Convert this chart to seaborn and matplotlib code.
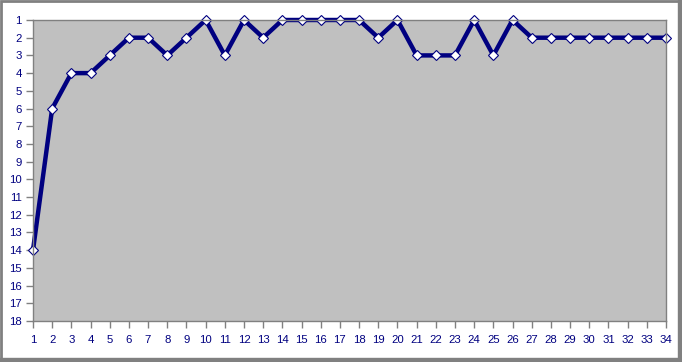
import numpy as np
import pandas as pd
import seaborn as sns
from matplotlib import pyplot as plt
from matplotlib.patches import Rectangle

# week number and position held that week
weeks = list(range(1, 35))
positions = [14, 6, 4, 4, 3, 2, 2, 3, 2, 1, 3, 1, 2, 1, 1, 1, 1, 1, 2, 1,
             3, 3, 3, 1, 3, 1, 2, 2, 2, 2, 2, 2, 2, 2]
y_ticks = list(range(1, 19))

df = pd.DataFrame({"week": weeks, "position": positions})

sns.set_style("white")
plt.rcParams['font.family'] = ['Liberation Sans', 'DejaVu Sans']

fig = plt.figure(figsize=(6.82, 3.62), dpi=100)
W, H = 682, 362
ax = fig.add_axes([33 / W, (H - 321) / H, (666 - 33) / W, (321 - 20) / H])
ax.set_facecolor("#C0C0C0")

sns.lineplot(data=df, x="week", y="position", ax=ax, color="#000080",
             linewidth=3.2, marker="D", markersize=5.5,
             markerfacecolor="white", markeredgecolor="#000080",
             markeredgewidth=0.8, clip_on=False)

ax.set_xlim(1, 34)
ax.set_ylim(18, 1)
ax.set_xticks(weeks)
ax.set_yticks(y_ticks)
ax.set_xlabel("")
ax.set_ylabel("")
ax.tick_params(axis="both", direction="out", length=5, width=1,
               color="#808080", labelcolor="#000080", labelsize=8.2)
ax.tick_params(axis="x", pad=5)
ax.tick_params(axis="y", pad=3)
ax.tick_params(left=True, bottom=True)
for s in ax.spines.values():
    s.set_color("#808080")
    s.set_linewidth(1)
    s.set_visible(True)

# outer chart frame, a bit heavier on the right and bottom
fig.patches.append(Rectangle((1 / W, 2 / H), 1 - 3 / W, 1 - 3 / H,
                             transform=fig.transFigure, fill=False,
                             edgecolor="#808080", linewidth=2))
fig.patches.append(Rectangle((678 / W, 0), 3 / W, 1,
                             transform=fig.transFigure, color="#808080"))
fig.patches.append(Rectangle((0, 1 / H), 1, 3 / H,
                             transform=fig.transFigure, color="#808080"))

fig.savefig("out.png", dpi=100)
